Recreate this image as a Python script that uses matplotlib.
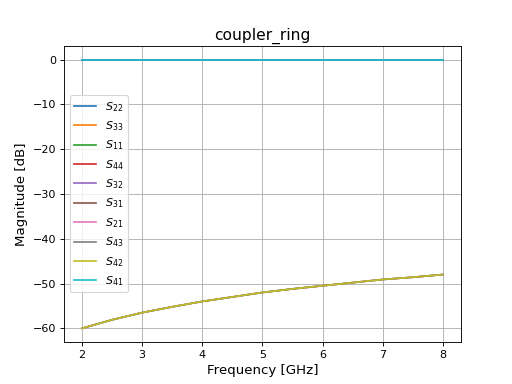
import matplotlib
matplotlib.use("Agg")
import matplotlib.pyplot as plt
import numpy as np

freq_ghz = [2.0, 2.5, 3.0, 3.5, 4.0, 4.5, 5.0, 5.5, 6.0, 6.5, 7.0, 7.5, 8.0]
low_db = [-60.0, -58.1, -56.5, -55.2, -54.0, -53.0, -52.0, -51.2, -50.5, -49.8, -49.1, -48.6, -48.0]
high_db = [0.0, 0.0, 0.0, 0.0, 0.0, 0.0, 0.0, 0.0, 0.0, 0.0, 0.0, 0.0, 0.0]

labels = ["22", "33", "11", "44", "32", "31", "21", "43", "42", "41"]
groups = ["high", "high", "high", "high", "high", "low", "low", "low", "low", "high"]

fig, ax = plt.subplots(figsize=(6.4, 4.8), dpi=80)
for lab, g in zip(labels, groups):
    y = high_db if g == "high" else low_db
    ax.plot(freq_ghz, y, label=f"$S_{{{lab}}}$")
ax.set_title("coupler_ring", fontsize=14)
ax.set_xlabel("Frequency [GHz]", fontsize=12)
ax.set_ylabel("Magnitude [dB]", fontsize=12)
ax.grid(True)
ax.legend(loc="center left")
fig.savefig("out.png", dpi=80)
